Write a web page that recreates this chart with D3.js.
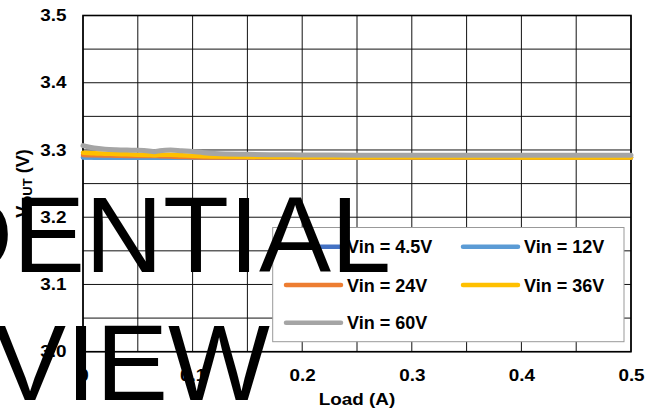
<!DOCTYPE html>
<html>
<head>
<meta charset="utf-8">
<script src="https://cdn.jsdelivr.net/npm/d3@7"></script>
<style>
  body { margin: 0; background: #fff; }
  svg { display: block; }
  text { font-family: "Liberation Sans", Arial, sans-serif; }
</style>
</head>
<body>
<div class="chart"></div>
<script>
// data
const loads = [0, 0.005, 0.01, 0.02, 0.03, 0.04, 0.05, 0.06, 0.065, 0.07, 0.08, 0.09, 0.1, 0.11, 0.12, 0.15, 0.2, 0.25, 0.3, 0.35, 0.4, 0.45, 0.5];
const vin4p5 = [3.2895, 3.2893, 3.2892, 3.2891, 3.2890, 3.2890, 3.2889, 3.2889, 3.2889, 3.2889, 3.2889, 3.2888, 3.2888, 3.2888, 3.2888, 3.2888, 3.2888, 3.2888, 3.2888, 3.2888, 3.2888, 3.2888, 3.2888];
const vin12 = [3.2888, 3.2887, 3.2886, 3.2885, 3.2885, 3.2885, 3.2884, 3.2884, 3.2884, 3.2884, 3.2884, 3.2884, 3.2884, 3.2884, 3.2884, 3.2884, 3.2884, 3.2884, 3.2884, 3.2884, 3.2884, 3.2884, 3.2884];
const vin24 = [3.2925, 3.2922, 3.2920, 3.2918, 3.2915, 3.2912, 3.2910, 3.2910, 3.2912, 3.2908, 3.2902, 3.2897, 3.2893, 3.2890, 3.2889, 3.2888, 3.2888, 3.2887, 3.2887, 3.2887, 3.2887, 3.2887, 3.2887];
const vin36 = [3.2958, 3.2955, 3.2950, 3.2945, 3.2940, 3.2935, 3.2930, 3.2925, 3.2922, 3.2930, 3.2928, 3.2920, 3.2915, 3.2908, 3.2902, 3.2898, 3.2895, 3.2893, 3.2892, 3.2891, 3.2890, 3.2890, 3.2890];
const vin60 = [3.3065, 3.3045, 3.3030, 3.3012, 3.3003, 3.2998, 3.2995, 3.2985, 3.2975, 3.2990, 3.3000, 3.2988, 3.2978, 3.2960, 3.2948, 3.2935, 3.2927, 3.2923, 3.2921, 3.2920, 3.2920, 3.2920, 3.2920];

const seriesNames = ["Vin = 4.5V", "Vin = 12V", "Vin = 24V", "Vin = 36V", "Vin = 60V"];
const seriesValues = [vin4p5, vin12, vin24, vin36, vin60];
const seriesColors = ["#4472C4", "#5B9BD5", "#ED7D31", "#FFC000", "#A5A5A5"];

const xTicks = [0, 0.1, 0.2, 0.3, 0.4, 0.5];
const yTicks = [3.0, 3.1, 3.2, 3.3, 3.4, 3.5];
const gridX = d3.range(0, 11).map(i => i * 0.05);
const gridY = d3.range(0, 11).map(i => 3.0 + i * 0.05);

// constants
const width = 657;
const height = 414;
const plot_left = 83, plot_right = 631, plot_top = 15.5, plot_bottom = 351.7;
const stretch = 1.18;

const svg = d3.select(".chart").append("svg")
    .attr("width", width)
    .attr("height", height);

// scales
const x_scale = d3.scaleLinear().domain([0, 0.5]).range([plot_left, plot_right]);
const y_scale = d3.scaleLinear().domain([3.0, 3.5]).range([plot_bottom, plot_top]);

// grid
svg.append("g").selectAll("line")
    .data(gridX).enter().append("line")
    .attr("x1", d => x_scale(d)).attr("x2", d => x_scale(d))
    .attr("y1", plot_top).attr("y2", plot_bottom)
    .attr("stroke", "#111").attr("stroke-width", 1);

svg.append("g").selectAll("line")
    .data(gridY).enter().append("line")
    .attr("x1", plot_left).attr("x2", plot_right)
    .attr("y1", d => y_scale(d)).attr("y2", d => y_scale(d))
    .attr("stroke", "#111").attr("stroke-width", 1);

// frame
svg.append("rect")
    .attr("x", plot_left).attr("y", plot_top)
    .attr("width", plot_right - plot_left).attr("height", plot_bottom - plot_top)
    .attr("fill", "none").attr("stroke", "#000").attr("stroke-width", 1.6);

// x axis
const x_axis = d3.axisBottom(x_scale).tickValues(xTicks).tickSize(0).tickPadding(18)
    .tickFormat(d => d === 0 ? "0" : d3.format(".1f")(d));
const gx = svg.append("g")
    .attr("transform", "translate(0," + plot_bottom + ")")
    .call(x_axis);
gx.select(".domain").remove();
gx.selectAll("text")
    .attr("font-size", 16).attr("font-weight", "bold").attr("fill", "#000")
    .attr("font-family", "Liberation Sans, Arial, sans-serif")
    .attr("transform", "scale(" + stretch + ",1)");

// y axis
const y_axis = d3.axisLeft(y_scale).tickValues(yTicks).tickSize(0).tickPadding(14)
    .tickFormat(d3.format(".1f"));
const gy = svg.append("g")
    .attr("transform", "translate(" + plot_left + ",0)")
    .call(y_axis);
gy.select(".domain").remove();
gy.selectAll("text")
    .attr("font-size", 16).attr("font-weight", "bold").attr("fill", "#000")
    .attr("font-family", "Liberation Sans, Arial, sans-serif")
    .attr("transform", "scale(" + stretch + ",1)");

// axis titles
svg.append("text")
    .attr("text-anchor", "middle")
    .attr("transform", "translate(" + ((plot_left + plot_right) / 2) + ",405) scale(" + stretch + ",1)")
    .attr("font-size", 16).attr("font-weight", "bold")
    .text("Load (A)");

const yTitle = svg.append("text")
    .attr("text-anchor", "middle")
    .attr("transform", "translate(29," + ((plot_top + plot_bottom) / 2) + ") rotate(-90)")
    .attr("font-size", 18).attr("font-weight", "bold");
yTitle.append("tspan").text("V");
yTitle.append("tspan").attr("font-size", 13).attr("dy", 3).text("OUT");
yTitle.append("tspan").attr("dy", -3).text(" (V)");

// lines
const line = d3.line()
    .x((d, i) => x_scale(loads[i]))
    .y(d => y_scale(d))
    .curve(d3.curveMonotoneX);

svg.append("g").selectAll("path")
    .data(seriesValues).enter().append("path")
    .attr("d", d => line(d))
    .attr("fill", "none")
    .attr("stroke", (d, i) => seriesColors[i])
    .attr("stroke-width", (d, i) => i === 4 ? 5 : 4.5)
    .attr("stroke-linejoin", "round")
    .attr("stroke-linecap", "round");

// legend
const legend = svg.append("g");
legend.append("rect")
    .attr("x", 272.7).attr("y", 227.5)
    .attr("width", 351.3).attr("height", 114.2)
    .attr("fill", "#fff").attr("stroke", "#999").attr("stroke-width", 1);

const legendCols = [286, 463];
const legendRows = [246.7, 285, 322.7];
const item = legend.selectAll(".item")
    .data(seriesNames).enter().append("g")
    .attr("class", "item")
    .attr("transform", (d, i) => "translate(" + legendCols[i % 2] + "," + legendRows[Math.floor(i / 2)] + ")");
item.append("line")
    .attr("x1", 0).attr("x2", 55)
    .attr("stroke", (d, i) => seriesColors[i])
    .attr("stroke-width", 4.5)
    .attr("stroke-linecap", "round");
item.append("text")
    .attr("x", 61).attr("y", 6.5)
    .attr("font-size", 18).attr("font-weight", "bold")
    .text(d => d);

// watermark
svg.append("text")
    .attr("x", 391).attr("y", 272)
    .attr("text-anchor", "end")
    .attr("font-size", 108)
    .attr("fill", "#000")
    .text("CONFIDENTIAL");
svg.append("text")
    .attr("x", 270).attr("y", 400)
    .attr("text-anchor", "end")
    .attr("font-size", 108)
    .attr("fill", "#000")
    .text("PREVIEW");
</script>
</body>
</html>
